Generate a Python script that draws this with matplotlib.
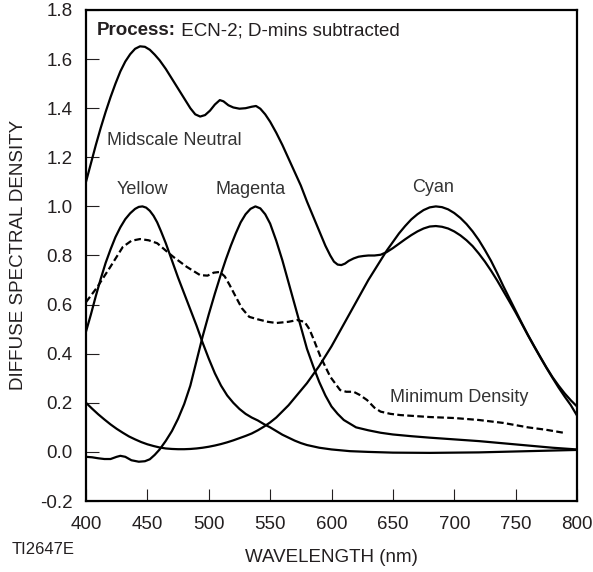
import matplotlib
matplotlib.use('Agg')
import matplotlib.pyplot as plt

plt.rcParams['font.family'] = ['Liberation Sans', 'DejaVu Sans']

# values (wavelength nm -> diffuse spectral density)
yellow_wl = [400, 404, 408, 412, 416, 420, 424, 428, 432, 436, 440, 443, 446, 449, 452, 455,
             458, 461, 465, 470, 475, 480, 485, 490, 495, 500, 505, 510, 515, 520, 525, 530,
             535, 540, 545, 550, 555, 560, 565, 570, 575, 580, 590, 600, 615, 630, 650, 680,
             720, 760, 800]
yellow_d = [0.49, 0.56, 0.635, 0.705, 0.77, 0.825, 0.875, 0.915, 0.948, 0.972, 0.99, 0.998,
            1.0, 0.995, 0.982, 0.962, 0.935, 0.90, 0.85, 0.78, 0.71, 0.645, 0.58, 0.515,
            0.445, 0.38, 0.32, 0.27, 0.23, 0.20, 0.175, 0.155, 0.14, 0.128, 0.113, 0.10,
            0.085, 0.07, 0.058, 0.046, 0.036, 0.028, 0.017, 0.01, 0.003, 0.0, -0.003, -0.004,
            -0.002, 0.003, 0.008]

magenta_wl = [400, 405, 410, 415, 420, 425, 428, 432, 437, 443, 448, 452, 456, 460, 465, 470,
              475, 480, 485, 490, 495, 500, 505, 510, 514, 518, 522, 526, 530, 534, 538, 542,
              546, 550, 555, 560, 565, 570, 575, 580, 585, 590, 595, 600, 605, 610, 615, 620,
              630, 640, 650, 665, 680, 700, 720, 740, 760, 780, 800]
magenta_d = [-0.02, -0.022, -0.026, -0.029, -0.029, -0.02, -0.016, -0.02, -0.034, -0.04, -0.038,
             -0.03, -0.012, 0.01, 0.045, 0.085, 0.135, 0.195, 0.27, 0.37, 0.47, 0.56, 0.645,
             0.725, 0.785, 0.84, 0.89, 0.935, 0.968, 0.99, 1.0, 0.992, 0.968, 0.93, 0.86, 0.78,
             0.69, 0.60, 0.51, 0.42, 0.35, 0.285, 0.23, 0.185, 0.155, 0.13, 0.115, 0.10, 0.088,
             0.078, 0.071, 0.064, 0.058, 0.051, 0.044, 0.035, 0.026, 0.017, 0.01]

cyan_wl = [400, 405, 410, 415, 420, 425, 430, 435, 440, 445, 450, 455, 460, 465, 470, 475, 480,
           485, 490, 495, 500, 505, 510, 515, 520, 525, 530, 535, 540, 545, 550, 555, 560, 565,
           570, 575, 580, 585, 590, 595, 600, 605, 610, 615, 620, 625, 630, 635, 640, 645, 650,
           655, 660, 665, 670, 675, 680, 685, 690, 695, 700, 705, 710, 715, 720, 725, 730, 735,
           740, 745, 750, 755, 760, 765, 770, 775, 780, 785, 790, 795, 800]
cyan_d = [0.200, 0.176, 0.153, 0.132, 0.112, 0.094, 0.078, 0.063, 0.051, 0.040, 0.031, 0.024,
          0.018, 0.014, 0.012, 0.011, 0.011, 0.012, 0.014, 0.017, 0.021, 0.026, 0.032, 0.039,
          0.047, 0.056, 0.065, 0.075, 0.088, 0.103, 0.12, 0.14, 0.165, 0.19, 0.22, 0.25, 0.28,
          0.315, 0.35, 0.39, 0.43, 0.475, 0.52, 0.565, 0.61, 0.655, 0.70, 0.74, 0.78, 0.82,
          0.855, 0.89, 0.92, 0.947, 0.968, 0.985, 0.996, 1.0, 0.997, 0.988, 0.973, 0.953,
          0.928, 0.898, 0.863, 0.822, 0.778, 0.728, 0.675, 0.625, 0.575, 0.525, 0.477, 0.432,
          0.388, 0.345, 0.305, 0.27, 0.238, 0.21, 0.185]

neutral_wl = [400, 404, 408, 412, 416, 420, 424, 428, 432, 436, 440, 444, 448, 452, 456, 460,
              465, 470, 475, 480, 485, 489, 493, 497, 501, 505, 509, 512, 516, 520, 525, 530,
              535, 538.5, 542, 546, 550, 555, 560, 565, 570, 575, 580, 585, 590, 595, 599, 602,
              605, 608, 611, 614, 618, 622, 626, 630, 635, 640, 645, 650, 655, 660, 665, 670,
              675, 680, 685, 690, 695, 700, 705, 710, 715, 720, 725, 730, 735, 740, 745, 750,
              755, 760, 765, 770, 775, 780, 785, 790, 795, 800]
neutral_d = [1.10, 1.175, 1.25, 1.32, 1.385, 1.445, 1.50, 1.55, 1.59, 1.62, 1.642, 1.652, 1.65,
             1.638, 1.618, 1.595, 1.56, 1.52, 1.48, 1.44, 1.40, 1.375, 1.366, 1.372, 1.39, 1.415,
             1.433, 1.428, 1.412, 1.403, 1.398, 1.40, 1.406, 1.409, 1.398, 1.375, 1.345, 1.30,
             1.25, 1.195, 1.14, 1.085, 1.02, 0.96, 0.90, 0.84, 0.80, 0.775, 0.763, 0.761, 0.767,
             0.778, 0.788, 0.795, 0.798, 0.80, 0.80, 0.803, 0.814, 0.83, 0.848, 0.866, 0.883,
             0.898, 0.91, 0.918, 0.92, 0.917, 0.91, 0.898, 0.882, 0.862, 0.838, 0.808, 0.775,
             0.738, 0.698, 0.655, 0.612, 0.568, 0.522, 0.475, 0.43, 0.386, 0.343, 0.302, 0.262,
             0.225, 0.19, 0.148]

dmin_wl = [400, 409, 420, 430, 437, 444, 451, 458, 465, 471, 482, 493, 499, 504, 509, 513, 517,
           522, 527, 533, 540, 548, 555, 565, 572, 578, 582, 585, 591, 599, 607, 612, 618, 623,
           629, 635, 640, 648, 656, 680, 700, 720, 740, 760, 775, 789]
dmin_d = [0.61, 0.67, 0.755, 0.835, 0.86, 0.867, 0.862, 0.85, 0.82, 0.795, 0.754, 0.72, 0.718,
          0.73, 0.733, 0.715, 0.68, 0.632, 0.585, 0.55, 0.54, 0.53, 0.525, 0.53, 0.537, 0.53,
          0.50, 0.464, 0.388, 0.306, 0.252, 0.245, 0.245, 0.232, 0.211, 0.18, 0.164, 0.155,
          0.15, 0.142, 0.138, 0.13, 0.118, 0.10, 0.09, 0.078]

xticks = [400, 450, 500, 550, 600, 650, 700, 750, 800]
yticks = [-0.2, 0.0, 0.2, 0.4, 0.6, 0.8, 1.0, 1.2, 1.4, 1.6, 1.8]

ink = '#231f20'
tc = '#333333'
lw = 1.6
fs = 13.5

fig = plt.figure(figsize=(5.93, 5.72), dpi=100)
ax = fig.add_axes([86 / 593, 1 - 501 / 572, 491 / 593, 491 / 572])

ax.plot(neutral_wl, neutral_d, color='black', lw=lw)
ax.plot(yellow_wl, yellow_d, color='black', lw=lw)
ax.plot(magenta_wl, magenta_d, color='black', lw=lw)
ax.plot(cyan_wl, cyan_d, color='black', lw=lw)
ax.plot(dmin_wl, dmin_d, color='black', lw=lw, ls=(0, (3, 1.5)))

ax.set_xlim(400, 800)
ax.set_ylim(-0.2, 1.8)
ax.set_xticks(xticks)
ax.set_yticks(yticks)
ax.set_yticklabels(['%.1f' % v for v in yticks])
ax.tick_params(direction='in', length=9, width=0.8, colors=ink, labelsize=fs)
ax.tick_params(axis='y', pad=9.5)
ax.tick_params(axis='x', pad=11)
for sp in ax.spines.values():
    sp.set_linewidth(1.6)
    sp.set_color('black')

fig.text(331 / 593, 1 - 557 / 572, 'WAVELENGTH (nm)', fontsize=fs, color=ink,
         ha='center', va='center')
fig.text(19 / 593, 1 - 255 / 572, 'DIFFUSE SPECTRAL DENSITY', fontsize=fs, color=ink,
         ha='center', va='center', rotation=90)

t = ax.text(409, 1.715, 'Process:', fontsize=fs, color=ink, va='center', ha='left',
            fontweight='bold')
ax.annotate(' ECN-2; D-mins subtracted', xy=(1, 0), xycoords=t, fontsize=fs, color=ink,
            va='bottom', ha='left')
ax.text(417, 1.27, 'Midscale Neutral', fontsize=13, color=tc, va='center', ha='left')
ax.text(446, 1.07, 'Yellow', fontsize=13, color=tc, va='center', ha='center')
ax.text(534, 1.07, 'Magenta', fontsize=13, color=tc, va='center', ha='center')
ax.text(683, 1.075, 'Cyan', fontsize=13, color=tc, va='center', ha='center')
ax.text(648, 0.22, 'Minimum Density', fontsize=13, color=tc, va='center', ha='left')

fig.text(12 / 593, 1 - 550 / 572, 'TI2647E', fontsize=12, color=ink, va='center', ha='left')

fig.savefig('out.png', dpi=100)
